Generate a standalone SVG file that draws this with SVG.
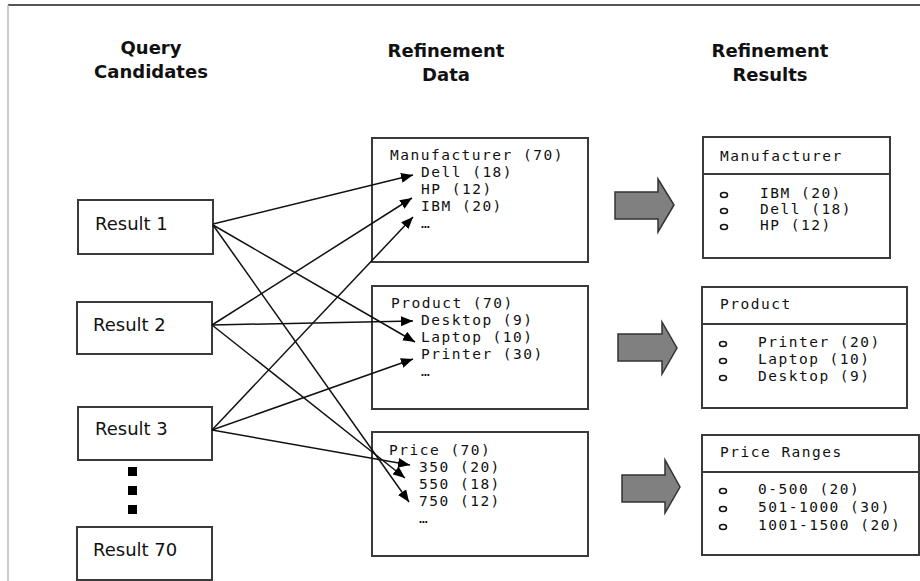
<svg xmlns="http://www.w3.org/2000/svg" width="920" height="581" viewBox="0 0 920 581">
  <defs>
    <style>
      .frame-top { stroke: #555; stroke-width: 2; }
      .frame-left { stroke: #bbb; stroke-width: 1.5; }
      .head { font-family: "DejaVu Sans", "Liberation Sans", sans-serif; font-weight: bold; font-size: 18px; fill: #111; text-anchor: middle; }
      .box { fill: #fff; stroke: #3a3a3a; stroke-width: 2; }
      .res { font-family: "DejaVu Sans", "Liberation Sans", sans-serif; font-size: 18px; fill: #111; }
      .mono { font-family: "DejaVu Sans Mono", "Liberation Mono", monospace; font-size: 14.5px; letter-spacing: 1.5px; fill: #111; }
      .bullet { fill: none; stroke: #111; stroke-width: 1.5; }
      .big { fill: #808080; stroke: #333; stroke-width: 1.5; stroke-linejoin: miter; }
      .link { stroke: #111; stroke-width: 1.5; fill: none; marker-end: url(#ah); }
      .dot { fill: #000; }
    </style>
    <marker id="ah" viewBox="0 0 12 10" refX="12" refY="5" markerWidth="12" markerHeight="10" markerUnits="userSpaceOnUse" orient="auto">
      <path d="M0,0 L12,5 L0,10 z" fill="#000"/>
    </marker>
  </defs>

  <rect x="0" y="0" width="920" height="581" fill="#fff"/>

  <!-- outer frame -->
  <line class="frame-top" x1="8" y1="5" x2="920" y2="5"/>
  <line class="frame-left" x1="8" y1="5" x2="8" y2="581"/>

  <!-- column headings -->
  <g id="headings">
    <text class="head" x="151" y="54">Query</text>
    <text class="head" x="151" y="78">Candidates</text>
    <text class="head" x="446" y="57">Refinement</text>
    <text class="head" x="446" y="81">Data</text>
    <text class="head" x="770" y="57">Refinement</text>
    <text class="head" x="770" y="81">Results</text>
  </g>

  <!-- query candidates -->
  <g id="result1">
    <rect class="box" x="78" y="200" width="135" height="54"/>
    <text class="res" x="95" y="230">Result 1</text>
  </g>
  <g id="result2">
    <rect class="box" x="77" y="302" width="135" height="52"/>
    <text class="res" x="93" y="331">Result 2</text>
  </g>
  <g id="result3">
    <rect class="box" x="78" y="407" width="134" height="53"/>
    <text class="res" x="95" y="435">Result 3</text>
  </g>
  <g id="ellipsis">
    <rect class="dot" x="128" y="467" width="9" height="9"/>
    <rect class="dot" x="128" y="486" width="9" height="9"/>
    <rect class="dot" x="128" y="505" width="9" height="9"/>
  </g>
  <g id="result70">
    <rect class="box" x="77" y="527" width="135" height="53"/>
    <text class="res" x="93" y="556">Result 70</text>
  </g>

  <!-- refinement data -->
  <g id="data-manufacturer">
    <rect class="box" x="372" y="138" width="216" height="124"/>
    <text class="mono" x="390" y="160">Manufacturer (70)</text>
    <text class="mono" x="421" y="177">Dell (18)</text>
    <text class="mono" x="421" y="194">HP (12)</text>
    <text class="mono" x="421" y="211">IBM (20)</text>
    <text class="mono" x="421" y="228">…</text>
  </g>
  <g id="data-product">
    <rect class="box" x="372" y="286" width="216" height="123"/>
    <text class="mono" x="391" y="308">Product (70)</text>
    <text class="mono" x="421" y="325">Desktop (9)</text>
    <text class="mono" x="421" y="342">Laptop (10)</text>
    <text class="mono" x="421" y="359">Printer (30)</text>
    <text class="mono" x="421" y="376">…</text>
  </g>
  <g id="data-price">
    <rect class="box" x="372" y="432" width="216" height="124"/>
    <text class="mono" x="389" y="455">Price (70)</text>
    <text class="mono" x="419" y="472">350 (20)</text>
    <text class="mono" x="419" y="489">550 (18)</text>
    <text class="mono" x="419" y="506">750 (12)</text>
    <text class="mono" x="419" y="523">…</text>
  </g>

  <!-- block arrows -->
  <g id="arrow-manufacturer">
    <path class="big" d="M615,192 L658,192 L658,179 L674,205 L658,232 L658,219 L615,219 Z"/>
  </g>
  <g id="arrow-product">
    <path class="big" d="M618,334 L662,334 L662,322 L677,348 L662,374 L662,361 L618,361 Z"/>
  </g>
  <g id="arrow-price">
    <path class="big" d="M622,475 L665,475 L665,460 L680,487 L665,513 L665,502 L622,502 Z"/>
  </g>

  <!-- refinement results -->
  <g id="out-manufacturer">
    <rect class="box" x="703" y="137" width="187" height="121"/>
    <line class="box" x1="703" y1="174" x2="890" y2="174"/>
    <text class="mono" x="720" y="161">Manufacturer</text>
    <ellipse class="bullet" cx="724" cy="195" rx="3.5" ry="2.5"/>
    <ellipse class="bullet" cx="724" cy="211" rx="3.5" ry="2.5"/>
    <ellipse class="bullet" cx="724" cy="227" rx="3.5" ry="2.5"/>
    <text class="mono" x="760" y="198">IBM (20)</text>
    <text class="mono" x="760" y="214">Dell (18)</text>
    <text class="mono" x="760" y="230">HP (12)</text>
  </g>
  <g id="out-product">
    <rect class="box" x="702" y="287" width="205" height="121"/>
    <line class="box" x1="702" y1="324" x2="907" y2="324"/>
    <text class="mono" x="720" y="309">Product</text>
    <ellipse class="bullet" cx="723" cy="344" rx="3.5" ry="2.5"/>
    <ellipse class="bullet" cx="723" cy="361" rx="3.5" ry="2.5"/>
    <ellipse class="bullet" cx="723" cy="378" rx="3.5" ry="2.5"/>
    <text class="mono" x="758" y="347">Printer (20)</text>
    <text class="mono" x="758" y="364">Laptop (10)</text>
    <text class="mono" x="758" y="381">Desktop (9)</text>
  </g>
  <g id="out-price">
    <rect class="box" x="702" y="435" width="217" height="120"/>
    <line class="box" x1="702" y1="472" x2="919" y2="472"/>
    <text class="mono" x="720" y="457">Price Ranges</text>
    <ellipse class="bullet" cx="723" cy="491" rx="3.5" ry="2.5"/>
    <ellipse class="bullet" cx="723" cy="509" rx="3.5" ry="2.5"/>
    <ellipse class="bullet" cx="723" cy="527" rx="3.5" ry="2.5"/>
    <text class="mono" x="758" y="494">0-500 (20)</text>
    <text class="mono" x="758" y="512">501-1000 (30)</text>
    <text class="mono" x="758" y="530">1001-1500 (20)</text>
  </g>

  <!-- connectors from candidates to refinement values -->
  <g id="connectors">
    <line class="link" x1="213" y1="224" x2="413" y2="175"/>
    <line class="link" x1="213" y1="225" x2="415" y2="342"/>
    <line class="link" x1="213" y1="225" x2="409" y2="502"/>
    <line class="link" x1="212" y1="325" x2="412" y2="198"/>
    <line class="link" x1="212" y1="325" x2="413" y2="321"/>
    <line class="link" x1="212" y1="325" x2="405" y2="478"/>
    <line class="link" x1="212" y1="430" x2="413" y2="217"/>
    <line class="link" x1="212" y1="430" x2="413" y2="359"/>
    <line class="link" x1="212" y1="430" x2="410" y2="465"/>
  </g>
</svg>
